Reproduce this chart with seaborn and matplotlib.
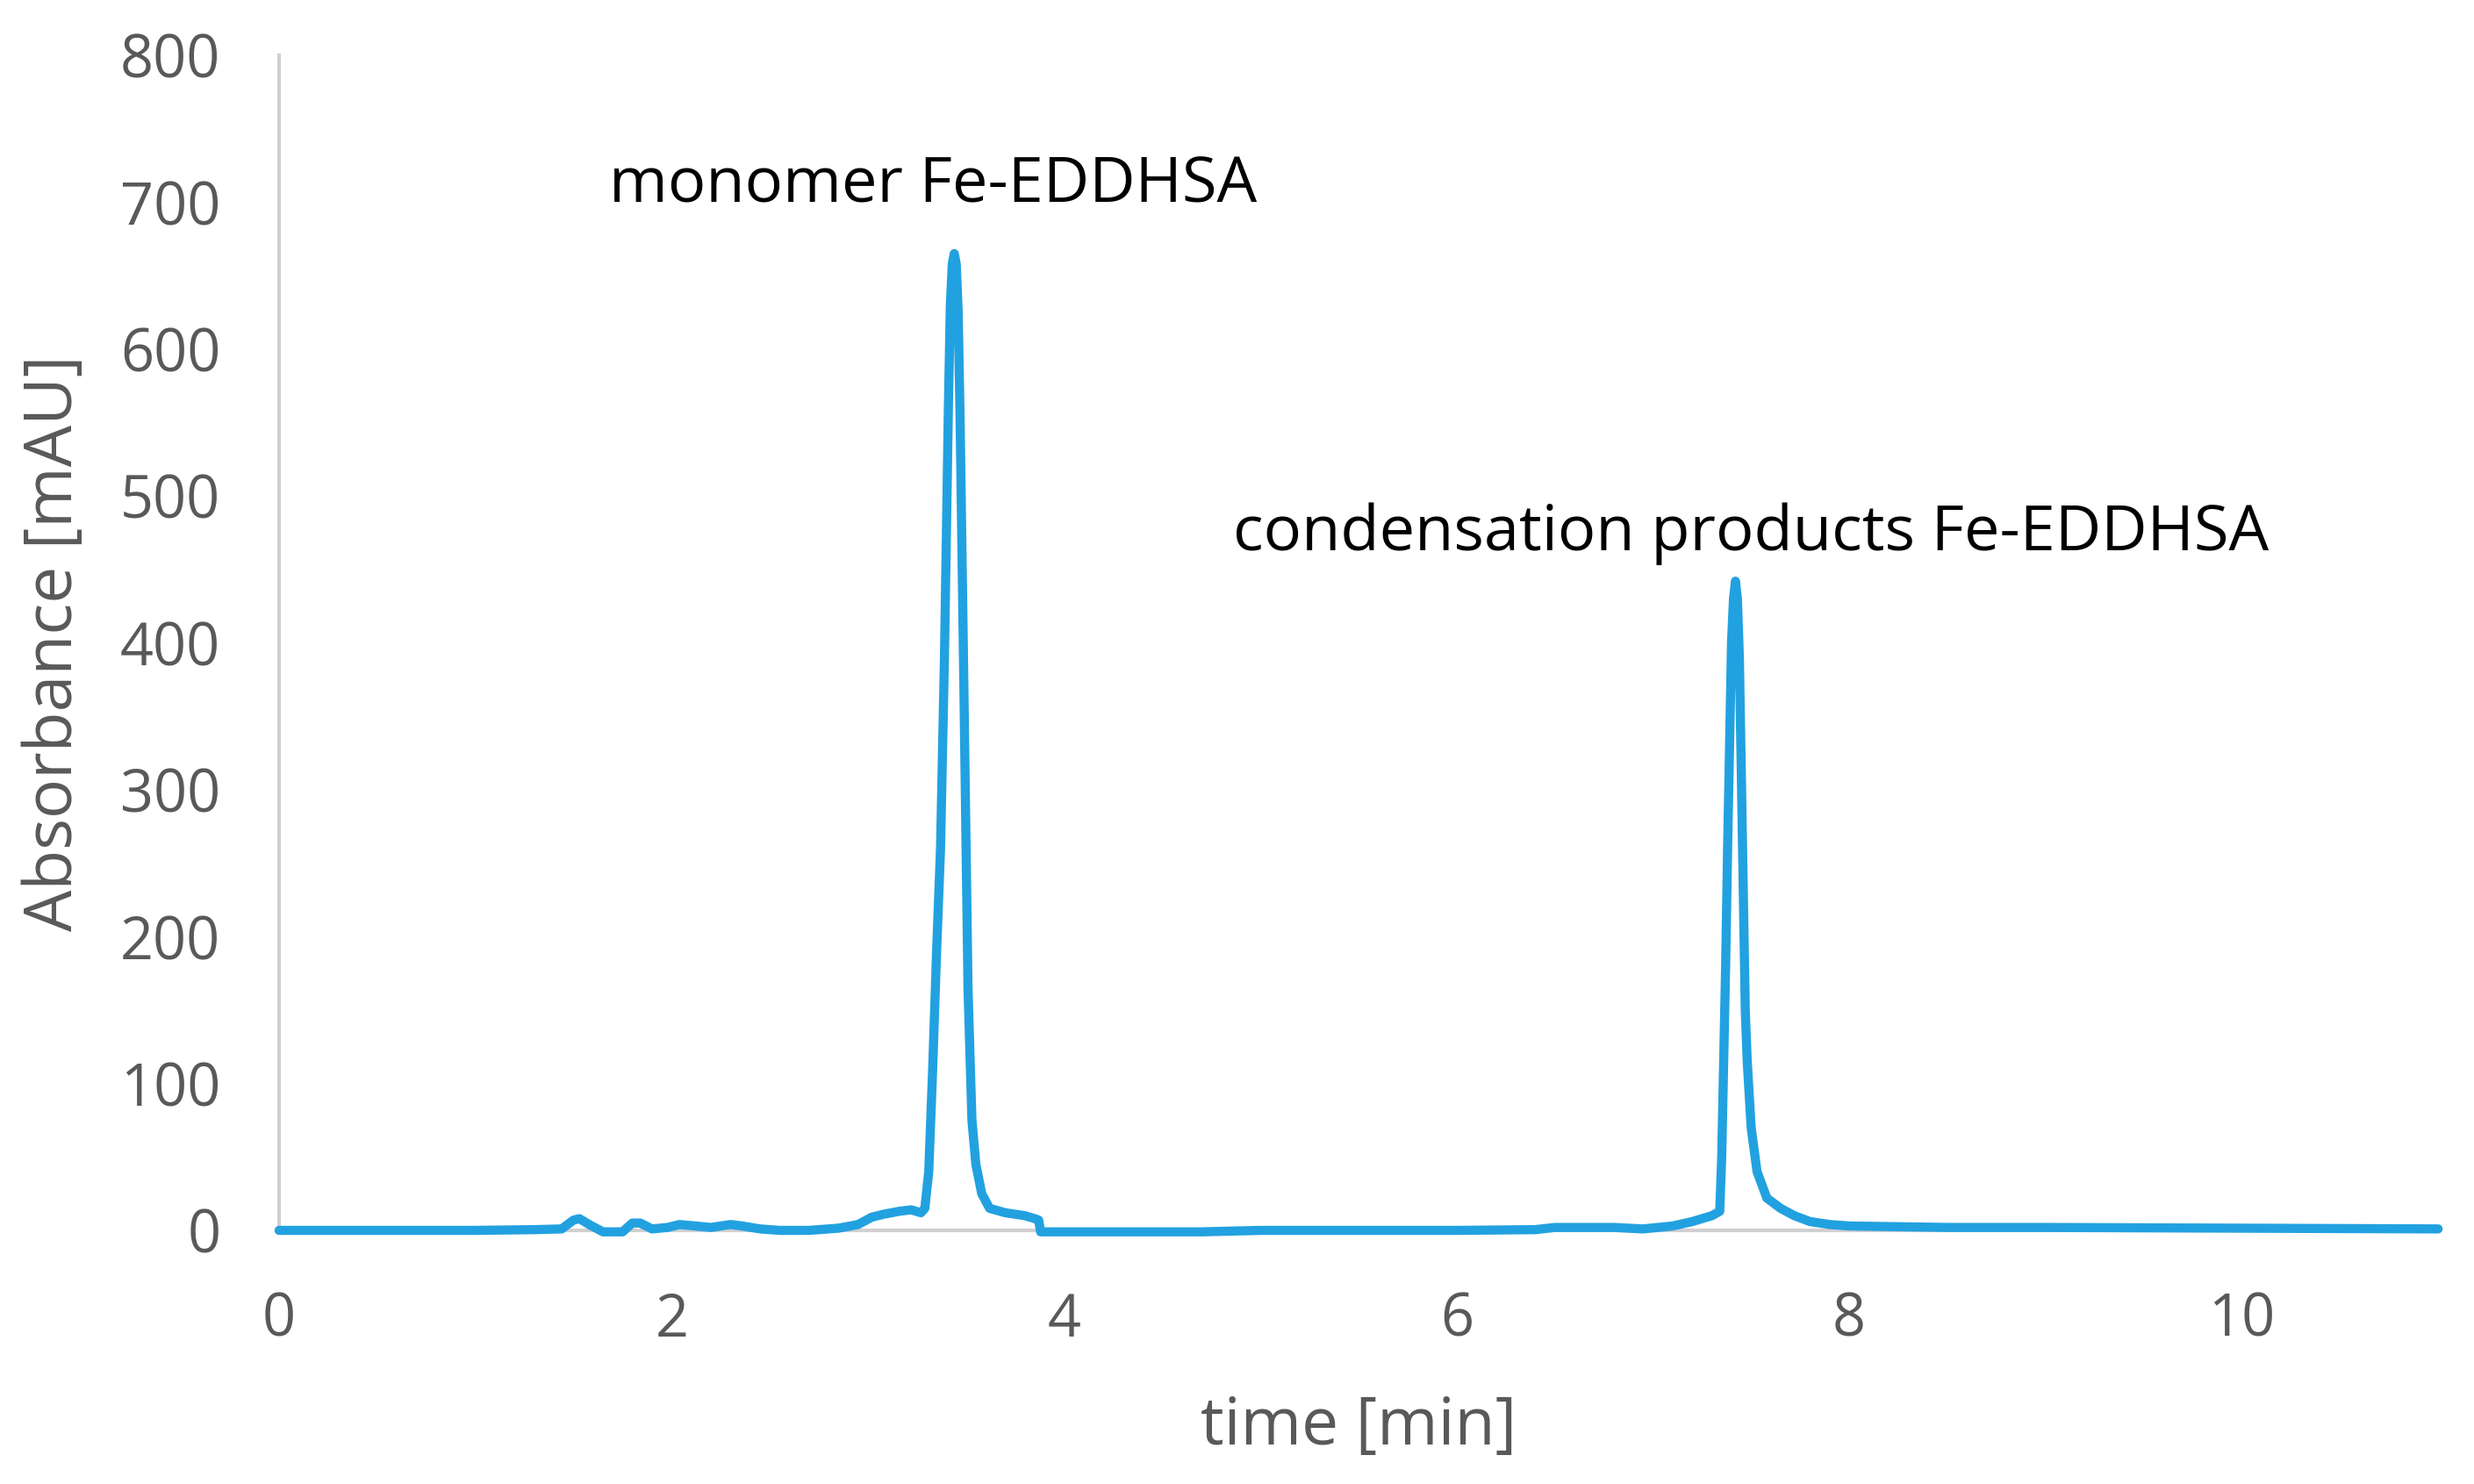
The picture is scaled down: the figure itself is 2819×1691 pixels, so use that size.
import matplotlib
matplotlib.use("Agg")
import matplotlib.pyplot as plt
import seaborn as sns
import pandas as pd

# Chromatogram
time_min = [0.0, 0.5, 1.0, 1.3, 1.44, 1.50, 1.53, 1.58, 1.65, 1.75, 1.80, 1.84, 1.90, 1.98,
            2.04, 2.12, 2.20, 2.30, 2.36, 2.45, 2.55, 2.70, 2.85, 2.95, 3.02, 3.08, 3.16,
            3.22, 3.27, 3.29, 3.31, 3.33, 3.35, 3.37, 3.39, 3.41, 3.42, 3.43, 3.44, 3.45,
            3.46, 3.47, 3.49, 3.51, 3.53, 3.55, 3.58, 3.62, 3.70, 3.80, 3.85, 3.87, 3.88,
            4.2, 4.7, 5.0, 5.5, 6.0, 6.4, 6.5, 6.8, 6.95, 7.1, 7.2, 7.3, 7.34, 7.35, 7.37,
            7.38, 7.40, 7.41, 7.42, 7.43, 7.44, 7.46, 7.47, 7.48, 7.50, 7.53, 7.58, 7.65,
            7.72, 7.80, 7.90, 8.0, 8.5, 9.0, 10.0, 11.0]
absorbance = [0, 0, 0, 0.5, 1, 7, 8, 4, -1, -1, 5, 5, 1, 2,
              4, 3, 2, 4, 3, 1, 0, 0, 1.5, 4, 9, 11, 13,
              14, 12, 15, 40, 110, 190, 260, 390, 560, 630, 658, 665, 658,
              625, 550, 360, 165, 75, 45, 25, 15, 12, 10, 8, 7, -1,
              -1, -1, 0, 0, 0, 0.5, 2, 2, 1, 3, 6, 10, 13, 50, 180,
              260, 400, 430, 442, 430, 390, 230, 150, 115, 70, 40, 22, 15,
              10, 6, 4, 3, 2, 2, 1.5, 1]

x_ticks = [0, 2, 4, 6, 8, 10]
y_ticks = [0, 100, 200, 300, 400, 500, 600, 700, 800]
peak_labels = ["monomer Fe-EDDHSA", "condensation products Fe-EDDHSA"]
peak_label_pos = [(1.68, 711), (4.86, 474)]

df = pd.DataFrame({"time": time_min, "abs": absorbance})

sns.set_theme(style="white")
plt.rcParams["font.family"] = ["Open Sans", "DejaVu Sans"]

fig = plt.figure(figsize=(28.19, 16.91), dpi=100)
ax = fig.add_axes([0.1128, 0.1709, 0.8727, 0.7918])

for s in ["top", "right"]:
    ax.spines[s].set_visible(False)
for s in ["left", "bottom"]:
    ax.spines[s].set_color("#d0d0d0")
    ax.spines[s].set_linewidth(3)
    ax.spines[s].set_zorder(0)

sns.lineplot(data=df, x="time", y="abs", ax=ax, color="#22a1e0", linewidth=7.5,
             estimator=None, sort=False)
for ln in ax.get_lines():
    ln.set_clip_on(False)
    ln.set_solid_joinstyle("round")
    ln.set_zorder(3)

ax.set_xlim(0, 11)
ax.set_ylim(0, 800)
ax.set_xticks(x_ticks)
ax.set_yticks(y_ticks)
ax.tick_params(axis="both", length=0, labelsize=48, labelcolor="#595959")
ax.tick_params(axis="x", pad=50)
ax.tick_params(axis="y", pad=48)
ax.grid(False)

ax.set_xlabel("time [min]", fontsize=54, color="#595959")
ax.set_ylabel("Absorbance [mAU]", fontsize=54, color="#595959")
ax.xaxis.label.set_va("center")
ax.yaxis.label.set_va("center")
ax.xaxis.set_label_coords(0.5, -0.168)
ax.yaxis.set_label_coords(-0.1037, 0.5)

for txt, (px, py) in zip(peak_labels, peak_label_pos):
    ax.text(px, py, txt, fontsize=52, color="black", ha="left", va="center")

fig.savefig("out.png", dpi=100, facecolor="white")
